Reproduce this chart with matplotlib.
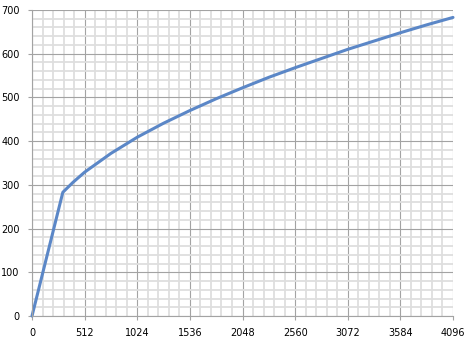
import matplotlib
matplotlib.use("Agg")
import matplotlib.pyplot as plt
from matplotlib.ticker import MultipleLocator

x_vals = [0, 300, 400, 512, 768, 1024, 1280, 1536, 1792, 2048, 2304, 2560,
          2816, 3072, 3328, 3584, 3840, 4096]
y_vals = [0, 283, 306, 329, 372, 409, 441, 470, 497, 522, 546, 568,
          589, 610, 629, 648, 666, 683]
x_ticks = [0, 512, 1024, 1536, 2048, 2560, 3072, 3584, 4096]
y_ticks = [0, 100, 200, 300, 400, 500, 600, 700]

fig = plt.figure(figsize=(4.73, 3.47), dpi=100)
ax = fig.add_axes([32/473, 31/347, 421/473, 306/347])

ax.set_xlim(0, 4096)
ax.set_ylim(0, 700)
ax.set_xticks(x_ticks)
ax.set_yticks(y_ticks)
ax.xaxis.set_minor_locator(MultipleLocator(102.4))
ax.yaxis.set_minor_locator(MultipleLocator(20))

ax.grid(which="minor", color="#dedede", linewidth=1.3)
ax.grid(which="major", color="#a3a3a3", linewidth=0.8)
ax.set_axisbelow(True)

for s in ["top", "right"]:
    ax.spines[s].set_visible(False)
for s in ["left", "bottom"]:
    ax.spines[s].set_color("#a3a3a3")
    ax.spines[s].set_linewidth(0.8)

ax.tick_params(which="major", length=3, width=0.8, color="#a3a3a3",
               labelsize=7, pad=6, labelcolor="black")
ax.tick_params(which="minor", length=0)

ax.plot(x_vals, y_vals, color="#5b87c7", linewidth=2.2, solid_joinstyle="round",
        solid_capstyle="round", clip_on=False)

fig.savefig("out.png", dpi=100)
